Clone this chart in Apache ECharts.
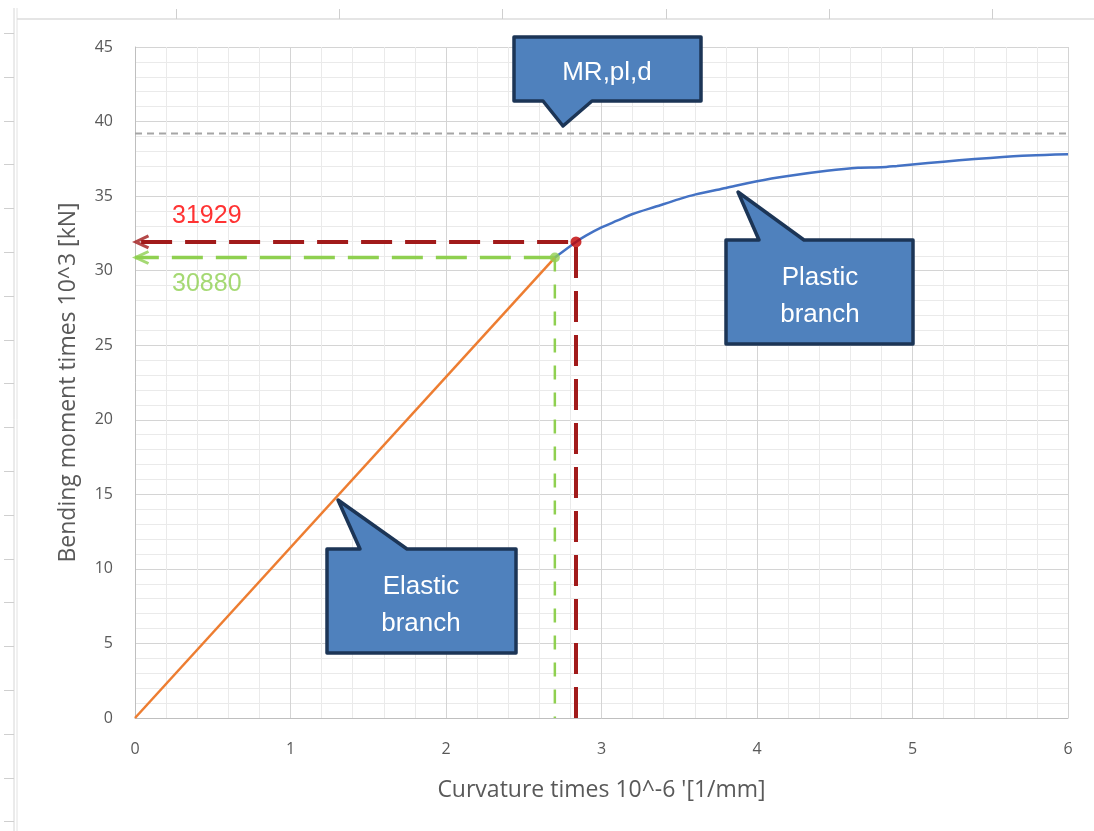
<!DOCTYPE html>
<html>
<head>
<meta charset="utf-8">
<script src="https://cdn.jsdelivr.net/npm/echarts@6/dist/echarts.min.js"></script>
<style>
  html, body { margin: 0; padding: 0; background: #ffffff; }
  #chart { width: 1094px; height: 831px; }
</style>
</head>
<body>
<div id="chart"></div>
<script>
// Moment–curvature relation: elastic branch, plastic branch, design plastic moment
const elasticX = [0, 2.7];
const elasticY = [0, 30.88];

const plasticX = [2.70, 2.836, 2.9, 3.0, 3.1, 3.2, 3.35, 3.5, 3.6, 3.8, 4.0, 4.2, 4.45, 4.65, 4.8, 4.9, 5.1, 5.3, 5.5, 5.75, 6.0];
const plasticY = [30.88, 31.929, 32.35, 32.9, 33.35, 33.8, 34.3, 34.8, 35.1, 35.55, 36.0, 36.35, 36.7, 36.9, 36.93, 37.02, 37.22, 37.4, 37.56, 37.72, 37.8];

// design plastic moment resistance (MR,pl,d)
const mrPlD = 39.2;

// characteristic points: end of elastic branch and yield onset
const elasticLimit = [2.7, 30.88];
const yieldPoint = [2.836, 31.929];

const xTicks = [0, 1, 2, 3, 4, 5, 6];
const yTicks = [0, 5, 10, 15, 20, 25, 30, 35, 40, 45];

const zip = (xs, ys) => xs.map((x, i) => [x, ys[i]]);

const chart = echarts.init(document.getElementById('chart'), null, { renderer: 'canvas' });

const axisFont = { fontFamily: 'Open Sans', fontSize: 16, color: '#595959' };
const chevronLeft = 'path://M12,0 L0,6 L12,12';

// spreadsheet cell borders around the chart object
const sheetLines = [];
sheetLines.push({ type: 'line', shape: { x1: 14, y1: 8, x2: 14, y2: 831 }, style: { stroke: '#d6d6d6', lineWidth: 1 } });
sheetLines.push({ type: 'line', shape: { x1: 17, y1: 8, x2: 17, y2: 831 }, style: { stroke: '#e2e2e2', lineWidth: 1 } });
sheetLines.push({ type: 'line', shape: { x1: 17, y1: 19, x2: 1094, y2: 19 }, style: { stroke: '#dcdcdc', lineWidth: 1.5 } });
for (let y = 33; y < 831; y += 43.8) {
  sheetLines.push({ type: 'line', shape: { x1: 4, y1: Math.round(y) + 0.5, x2: 14, y2: Math.round(y) + 0.5 }, style: { stroke: '#cfcfcf', lineWidth: 1 } });
}
for (let x = 176; x < 1094; x += 163.2) {
  sheetLines.push({ type: 'line', shape: { x1: Math.round(x) + 0.5, y1: 9, x2: Math.round(x) + 0.5, y2: 19 }, style: { stroke: '#cfcfcf', lineWidth: 1 } });
}

// callout shape: rectangle with a pointer, drawn as a single polygon
function callout(rect, base1, tip, base2, edge) {
  const [l, t, r, b] = rect;
  let pts;
  if (edge === 'bottom') {
    pts = [[l, t], [r, t], [r, b], [base2, b], tip, [base1, b], [l, b]];
  } else {
    pts = [[l, t], [base1, t], tip, [base2, t], [r, t], [r, b], [l, b]];
  }
  return {
    type: 'polygon',
    z: 100,
    shape: { points: pts },
    style: { fill: '#4f81bd', stroke: '#1c3556', lineWidth: 3.5, lineJoin: 'round' }
  };
}
function calloutText(x, y, txt) {
  return {
    type: 'text', z: 101, x: x, y: y,
    style: { text: txt, fill: '#ffffff', font: '26px "Liberation Sans", Arial, sans-serif', align: 'center', verticalAlign: 'middle', lineHeight: 37 }
  };
}

const option = {
  backgroundColor: '#ffffff',
  animation: false,
  grid: { left: 135, right: 26, top: 47, bottom: 113, containLabel: false },
  xAxis: {
    type: 'value', min: 0, max: 6, interval: 1,
    name: "Curvature times 10^-6 '[1/mm]",
    nameLocation: 'middle', nameGap: 61,
    nameTextStyle: { fontFamily: 'Open Sans', fontSize: 23, color: '#595959' },
    axisLine: { show: true, lineStyle: { color: '#bfbfbf', width: 1 } },
    axisTick: { show: false },
    axisLabel: Object.assign({ margin: 23, formatter: v => xTicks.includes(v) ? String(v) : '' }, axisFont),
    splitLine: { show: true, lineStyle: { color: '#d4d4d4', width: 1 } },
    minorTick: { show: false, splitNumber: 5 },
    minorSplitLine: { show: true, lineStyle: { color: '#eaeaea', width: 1 } }
  },
  yAxis: {
    type: 'value', min: 0, max: 45, interval: 5,
    name: 'Bending moment times 10^3 [kN]',
    nameLocation: 'middle', nameGap: 55,
    nameTextStyle: { fontFamily: 'Open Sans', fontSize: 23, color: '#595959' },
    axisLine: { show: true, lineStyle: { color: '#bfbfbf', width: 1 } },
    axisTick: { show: false },
    axisLabel: Object.assign({ margin: 22, formatter: v => yTicks.includes(v) ? String(v) : '' }, axisFont),
    splitLine: { show: true, lineStyle: { color: '#d4d4d4', width: 1 } },
    minorTick: { show: false, splitNumber: 5 },
    minorSplitLine: { show: true, lineStyle: { color: '#eaeaea', width: 1 } }
  },
  graphic: sheetLines.concat([
    callout([514, 37, 701, 101], 543, [563, 126], 592, 'bottom'),
    calloutText(607, 73, 'MR,pl,d'),
    callout([726, 240, 913, 344], 759, [738, 192], 804, 'top'),
    calloutText(820, 296, 'Plastic\nbranch'),
    callout([327, 549, 516, 653], 360, [338, 500], 407, 'top'),
    calloutText(421, 605, 'Elastic\nbranch')
  ]),
  series: [
    {
      name: 'MR,pl,d', type: 'line', silent: true, showSymbol: false, z: 2,
      data: [[0, mrPlD], [6, mrPlD]],
      lineStyle: { color: '#a6a6a6', width: 2, type: [7, 5] }
    },
    {
      name: 'Elastic branch', type: 'line', showSymbol: false, z: 4,
      data: zip(elasticX, elasticY),
      lineStyle: { color: '#ed7d31', width: 2.5 }
    },
    {
      name: 'Plastic branch', type: 'line', showSymbol: false, smooth: 0.3, z: 4,
      data: zip(plasticX, plasticY),
      lineStyle: { color: '#4472c4', width: 2.5 }
    },
    {
      // yield moment guide lines
      name: 'yield guide', type: 'line', showSymbol: false, z: 3,
      data: [[yieldPoint[0], 0], yieldPoint, [0, yieldPoint[1]]],
      lineStyle: { color: '#a11a1a', width: 4, type: [31, 13] }
    },
    {
      // elastic limit guide, horizontal
      name: 'elastic guide h', type: 'line', showSymbol: false, z: 3,
      data: [elasticLimit, [0, elasticLimit[1]]],
      lineStyle: { color: '#8fd050', width: 3.5, type: [31, 13] }
    },
    {
      // elastic limit guide, vertical
      name: 'elastic guide v', type: 'line', showSymbol: false, z: 3,
      data: [elasticLimit, [elasticLimit[0], 0]],
      lineStyle: { color: '#8fd050', width: 2.5, type: [14, 13] }
    },
    {
      name: 'yield arrow', type: 'scatter', z: 5,
      data: [[0, yieldPoint[1]]],
      symbol: chevronLeft, symbolSize: [13, 12], symbolOffset: [7, 0],
      itemStyle: { color: 'rgba(0,0,0,0)', borderColor: '#a11a1a', borderWidth: 3 },
      label: {
        show: true, position: 'right', distance: 0, offset: [22, -26],
        formatter: p => String(Math.round(p.value[1] * 1000)),
        fontFamily: 'Liberation Sans', fontSize: 25, color: '#ff0000'
      }
    },
    {
      name: 'elastic arrow', type: 'scatter', z: 5,
      data: [[0, elasticLimit[1]]],
      symbol: chevronLeft, symbolSize: [13, 12], symbolOffset: [7, 0],
      itemStyle: { color: 'rgba(0,0,0,0)', borderColor: '#8fd050', borderWidth: 3 },
      label: {
        show: true, position: 'right', distance: 0, offset: [22, 27],
        formatter: p => String(Math.round(p.value[1] * 1000)),
        fontFamily: 'Liberation Sans', fontSize: 25, color: '#8fd050'
      }
    },
    {
      name: 'yield point', type: 'scatter', z: 6,
      data: [yieldPoint], symbol: 'circle', symbolSize: 11,
      itemStyle: { color: '#c00000' }
    },
    {
      name: 'elastic limit', type: 'scatter', z: 6,
      data: [elasticLimit], symbol: 'circle', symbolSize: 10,
      itemStyle: { color: '#92d050' }
    }
  ]
};

chart.setOption(option);
</script>
</body>
</html>
